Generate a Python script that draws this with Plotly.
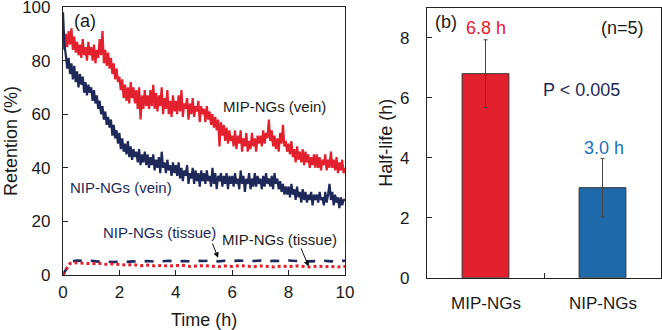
import plotly.graph_objects as go

# ---------------- data: panel (a) retention time courses ----------------
# vein signals sampled every 0.05 h from 0 to 10 h
vein_step_h = 0.05
mip_vein = [
    88, 84, 90, 85, 91, 86, 92, 84, 89, 83, 87, 82, 86, 81, 88, 82, 85, 80, 87, 82,
    85, 80, 86, 79, 84, 81, 88, 82, 91, 79, 84, 78, 83, 77, 81, 75, 79, 73, 77, 72,
    74, 69, 73, 66, 71, 65, 70, 64, 72, 66, 70, 64, 69, 62, 70, 58, 67, 62, 69, 63,
    67, 62, 69, 63, 71, 62, 68, 61, 67, 63, 70, 60, 66, 62, 69, 60, 65, 59, 67, 61,
    65, 60, 67, 61, 69, 59, 64, 62, 66, 58, 64, 60, 66, 59, 63, 61, 65, 57, 63, 60,
    62, 57, 63, 58, 61, 56, 60, 55, 59, 54, 58, 48, 57, 52, 56, 50, 55, 49, 54, 50,
    52, 48, 54, 47, 52, 49, 54, 46, 51, 48, 53, 46, 50, 47, 53, 48, 51, 46, 52, 49,
    52, 48, 54, 49, 53, 51, 58, 50, 54, 48, 52, 47, 51, 46, 53, 49, 56, 48, 50, 46,
    49, 45, 50, 44, 47, 42, 48, 43, 46, 42, 47, 41, 46, 42, 45, 40, 44, 41, 45, 40,
    45, 40, 44, 39, 43, 41, 45, 39, 43, 40, 46, 40, 43, 39, 44, 38, 42, 39, 43, 38,
    40,
]
nip_vein = [
    98, 86, 82, 77, 81, 75, 79, 73, 78, 72, 76, 70, 75, 71, 74, 68, 72, 67, 71, 68,
    70, 65, 69, 64, 67, 62, 65, 60, 63, 58, 61, 56, 59, 55, 58, 52, 56, 51, 54, 49,
    53, 47, 51, 46, 49, 45, 50, 44, 48, 43, 47, 44, 46, 42, 47, 41, 45, 42, 46, 41,
    45, 40, 44, 41, 45, 39, 43, 40, 44, 38, 46, 40, 42, 38, 43, 39, 41, 37, 42, 38,
    41, 37, 42, 36, 40, 35, 39, 37, 41, 34, 38, 36, 40, 34, 39, 35, 38, 33, 39, 35,
    38, 34, 39, 35, 37, 33, 40, 34, 38, 32, 37, 35, 38, 33, 37, 34, 38, 32, 37, 34,
    37, 33, 38, 34, 36, 32, 39, 34, 37, 31, 36, 34, 38, 32, 36, 33, 38, 33, 37, 34,
    36, 32, 37, 33, 38, 34, 36, 33, 37, 32, 38, 34, 36, 32, 35, 31, 34, 30, 33, 30,
    33, 29, 34, 30, 32, 28, 33, 29, 31, 27, 32, 28, 31, 27, 30, 28, 31, 26, 30, 28,
    30, 27, 31, 28, 29, 26, 31, 27, 30, 34, 28, 31, 26, 30, 27, 29, 25, 29, 26, 28,
    28,
]

# tissue signals sampled every 0.25 h
tissue_step_h = 0.25
nip_tissue = [
    0, 5.0, 5.4, 5.2, 5.3, 5.0, 5.1, 4.8, 5.0, 4.9, 5.1, 4.9, 5.2, 5.0, 5.1, 5.3,
    5.0, 5.2, 5.1, 5.3, 5.2, 5.4, 5.1, 5.3, 5.2, 5.4, 5.3, 5.2, 5.4, 5.1, 5.3, 5.2,
    5.4, 5.2, 5.3, 5.1, 5.2, 5.3, 5.1, 5.2, 5.3,
]
mip_tissue = [
    0, 4.3, 4.6, 4.4, 4.2, 4.4, 4.0, 4.1, 3.9, 3.7, 3.9, 3.5, 3.7, 3.4, 3.6, 3.3,
    3.5, 3.6, 3.2, 3.4, 3.5, 3.3, 3.1, 3.4, 3.2, 3.5, 3.3, 3.1, 3.4, 3.2, 3.0, 3.3,
    3.1, 3.4, 3.2, 3.0, 3.3, 3.1, 3.2, 3.0, 3.2,
]

t_vein = [i * vein_step_h for i in range(len(mip_vein))]
t_tissue = [i * tissue_step_h for i in range(len(mip_tissue))]

# ---------------- data: panel (b) half-life ----------------
groups = ["MIP-NGs", "NIP-NGs"]
half_life = [6.8, 3.0]
half_life_sd = [1.13, 0.97]
value_labels = ["6.8 h", "3.0 h"]

RED = "#e3202d"
NAVY = "#1e2959"
BLUE = "#1d69a9"
BLUE_TXT = "#2270b8"
FONT = "Liberation Sans, Arial, sans-serif"

fig = go.Figure()

# panel (a)
fig.add_trace(go.Scatter(x=t_vein, y=mip_vein, mode="lines",
                         line=dict(color=RED, width=2.2), xaxis="x", yaxis="y"))
fig.add_trace(go.Scatter(x=t_vein, y=nip_vein, mode="lines",
                         line=dict(color=NAVY, width=2.2), xaxis="x", yaxis="y"))
fig.add_trace(go.Scatter(x=t_tissue, y=nip_tissue, mode="lines",
                         line=dict(color=NAVY, width=2.6, dash="dash"), xaxis="x", yaxis="y"))
fig.add_trace(go.Scatter(x=t_tissue, y=mip_tissue, mode="lines",
                         line=dict(color=RED, width=3, dash="dot"), xaxis="x", yaxis="y"))

# panel (b)
fig.add_trace(go.Bar(
    x=[0, 1], y=half_life, width=0.4,
    marker=dict(color=[RED, BLUE], line=dict(color="#333333", width=1)),
    error_y=dict(type="data", array=half_life_sd, color="#444444", thickness=1, width=2),
    xaxis="x2", yaxis="y2",
))

axis_common = dict(
    showline=True, linecolor="#222222", linewidth=1.2, mirror=True,
    ticks="inside", ticklen=5, tickcolor="#222222", tickwidth=1,
    showgrid=False, zeroline=False, automargin=False, ticklabeloverflow="allow",
    tickfont=dict(family=FONT, size=17, color="#1a1a1a"),
)

fig.update_layout(
    width=662, height=330,
    margin=dict(l=0, r=0, t=0, b=0),
    paper_bgcolor="white", plot_bgcolor="white",
    showlegend=False,
    font=dict(family=FONT, color="#1a1a1a"),
    xaxis=dict(domain=[63 / 662, 345 / 662], range=[0, 10],
               tickvals=[0, 2, 4, 6, 8, 10], ticklabelstandoff=1, anchor="y",
               **axis_common),
    yaxis=dict(domain=[1 - 275 / 330, 1 - 7 / 330], range=[0, 100],
               tickvals=[0, 20, 40, 60, 80, 100], ticklabelstandoff=8, anchor="x",
               **axis_common),
    xaxis2=dict(domain=[427 / 662, 661 / 662], range=[-0.5, 1.5],
                tickvals=[0.5], ticktext=[""], anchor="y2", **axis_common),
    yaxis2=dict(domain=[1 - 277.7 / 330, 1 - 7.7 / 330], range=[0, 9],
                tickvals=[0, 2, 4, 6, 8], ticklabelstandoff=13, anchor="x2",
                **axis_common),
)

ann = []


def text(x, y, s, xref, yref, size, color="#1a1a1a", **kw):
    ann.append(dict(x=x, y=y, xref=xref, yref=yref, text=s, showarrow=False,
                    xanchor="center", yanchor="middle",
                    font=dict(family=FONT, size=size, color=color), **kw))


# axis titles
text(11 / 662, 0.5, "Retention (%)", "paper", "y domain", 18, textangle=-90)
text(0.5, 1 - 320 / 330, "Time (h)", "x domain", "paper", 18)
text(386 / 662, 0.5, "Half-life (h)", "paper", "y2 domain", 18, textangle=-90)

# panel (a) labels
text(0.77, 94.8, "(a)", "x", "y", 18)
text(7.5, 63, "MIP-NGs (vein)", "x", "y", 15)
text(2.07, 32.5, "NIP-NGs (vein)", "x", "y", 15, color=NAVY)
text(3.41, 15.7, "NIP-NGs (tissue)", "x", "y", 15, color=NAVY)
text(7.68, 13.4, "MIP-NGs (tissue)", "x", "y", 15)
for (hx, hy, tx, ty) in [(5.5, 6.4, 5.28, 12.3), (8.71, 3.2, 8.42, 10.5)]:
    ann.append(dict(x=hx, y=hy, ax=tx, ay=ty, xref="x", yref="y", axref="x", ayref="y",
                    text="", showarrow=True, arrowhead=2, arrowsize=1.1,
                    arrowwidth=1, arrowcolor="#111111"))

# panel (b) labels
text(-0.34, 8.52, "(b)", "x2", "y2", 18)
text(1.17, 8.32, "(n=5)", "x2", "y2", 18)
text(0.82, 6.26, "P &lt; 0.005", "x2", "y2", 18, color=NAVY)
text(0, 8.31, value_labels[0], "x2", "y2", 18, color=RED)
text(1.017, 4.33, value_labels[1], "x2", "y2", 18, color=BLUE_TXT)
for i, g in enumerate(groups):
    text(i, 1 - 303 / 330, g, "x2", "paper", 17)

fig.update_layout(annotations=ann)
fig.write_html("out.html")
